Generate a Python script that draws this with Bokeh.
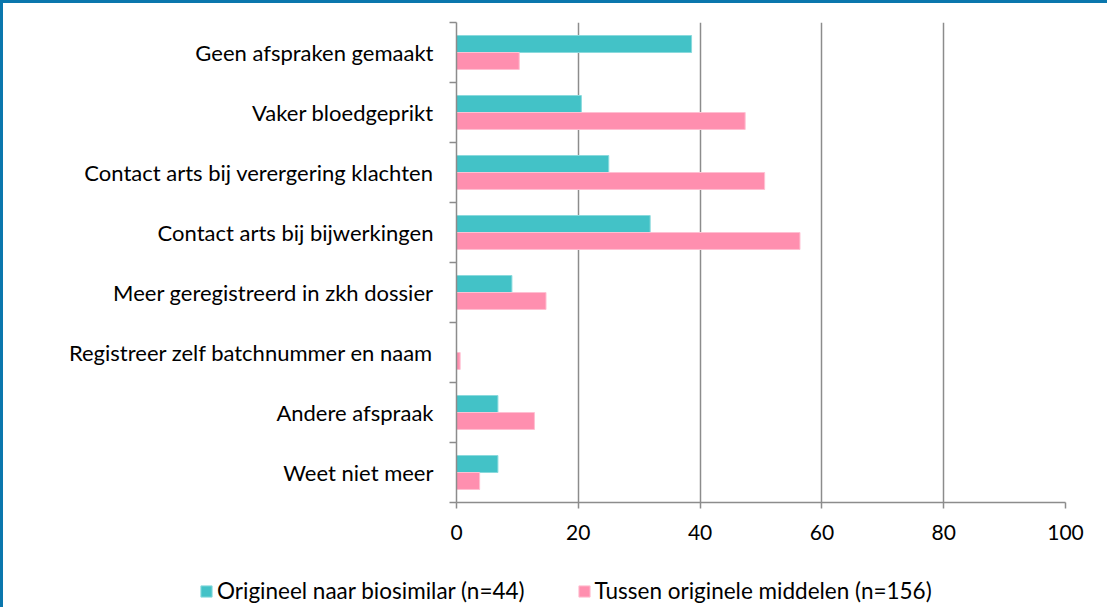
import numpy as np
from bokeh.plotting import figure
from bokeh.layouts import column
from bokeh.models import Range1d, FixedTicker, LinearAxis, Legend, LegendItem
from bokeh.embed import file_html
from bokeh.resources import INLINE

categories = [
    "Geen afspraken gemaakt",
    "Vaker bloedgeprikt",
    "Contact arts bij verergering klachten",
    "Contact arts bij bijwerkingen",
    "Meer geregistreerd in zkh dossier",
    "Registreer zelf batchnummer en naam",
    "Andere afspraak",
    "Weet niet meer",
]
biosimilar = [38.6, 20.5, 25.0, 31.8, 9.1, 0.0, 6.8, 6.8]
originele = [10.3, 47.4, 50.6, 56.4, 14.7, 0.6, 12.8, 3.8]
series_names = ["Origineel naar biosimilar (n=44)", "Tussen originele middelen (n=156)"]
x_ticks = [0, 20, 40, 60, 80, 100]

TEAL = "#43C2C7"
PINK = "#FF8FAF"
GRAY = "#8C8C8C"
BLUE = "#0A77AD"
FONT = "Lato"
FS = "22px"

n = len(categories)
centers = n - np.arange(n) - 0.5
bar_h = 0.283

p = figure(width=1104, height=549, x_range=Range1d(0, 100), y_range=Range1d(0, n),
           output_backend="svg", toolbar_location=None, y_axis_location=None,
           min_border_left=453, min_border_right=42, min_border_top=19, min_border_bottom=50)
p.frame_align = False
p.outline_line_color = None
p.background_fill_color = "white"

p.hbar(y=centers + bar_h / 2, left=0, right=biosimilar, height=bar_h,
       fill_color=TEAL, line_color="#8ADADD", line_width=1)
p.hbar(y=centers - bar_h / 2, left=0, right=originele, height=bar_h,
       fill_color=PINK, line_color="#FFC0D2", line_width=1)

# x axis
xa = p.xaxis[0]
xa.ticker = FixedTicker(ticks=x_ticks)
xa.axis_line_color = GRAY
xa.axis_line_width = 1.5
xa.major_tick_line_color = GRAY
xa.major_tick_line_width = 1.5
xa.major_tick_in = 0
xa.major_tick_out = 6
xa.minor_tick_line_color = None
xa.major_label_text_font = FONT
xa.major_label_text_font_size = "21px"
xa.major_label_text_color = "black"
xa.major_label_standoff = 16

p.xgrid.ticker = FixedTicker(ticks=x_ticks)
p.xgrid.grid_line_color = GRAY
p.xgrid.grid_line_width = 1.5
p.ygrid.visible = False

# inner left axis: boundary ticks
ya1 = LinearAxis(ticker=FixedTicker(ticks=list(range(n + 1))),
                 major_label_overrides={i: "" for i in range(n + 1)},
                 major_label_text_font_size="0px", major_label_standoff=0,
                 axis_line_color=GRAY, axis_line_width=1.5,
                 major_tick_line_color=GRAY, major_tick_line_width=1.5,
                 major_tick_in=0, major_tick_out=7, minor_tick_line_color=None)
# outer left axis: category labels
ya2 = LinearAxis(ticker=FixedTicker(ticks=list(centers)),
                 major_label_overrides={float(c): categories[i] for i, c in enumerate(centers)},
                 major_label_text_font=FONT, major_label_text_font_size=FS,
                 major_label_text_color="black", major_label_standoff=10,
                 axis_line_color=None, major_tick_line_color=None, minor_tick_line_color=None)
p.add_layout(ya1, "left")
p.add_layout(ya2, "left")

# legend strip (its bars lie outside its visible y range; only the legend shows)
p2 = figure(width=1104, height=55, x_range=Range1d(0, 100), y_range=Range1d(100, 101),
            output_backend="svg", toolbar_location=None,
            x_axis_location=None, y_axis_location=None,
            min_border=0, min_border_left=0, min_border_right=0,
            min_border_top=0, min_border_bottom=0)
p2.frame_align = False
p2.outline_line_color = None
p2.xgrid.visible = False
p2.ygrid.visible = False
l1 = p2.hbar(y=centers, left=0, right=biosimilar, height=bar_h, fill_color=TEAL, line_color="#8ADADD")
l2 = p2.hbar(y=centers, left=0, right=originele, height=bar_h, fill_color=PINK, line_color="#FFC0D2")
legend = Legend(items=[LegendItem(label=series_names[0], renderers=[l1]),
                       LegendItem(label=series_names[1], renderers=[l2])],
                location=(196, 3), orientation="horizontal",
                glyph_width=14, glyph_height=14, label_standoff=4, spacing=52,
                padding=0, margin=0, border_line_color=None, background_fill_alpha=0,
                label_text_font=FONT, label_text_font_size="22.5px", label_text_color="black")
p2.add_layout(legend, "center")

layout = column(p, p2, spacing=0,
                styles={"border-top": f"3px solid {BLUE}", "border-left": f"3px solid {BLUE}"})

open("out.html", "w").write(file_html(layout, INLINE))
